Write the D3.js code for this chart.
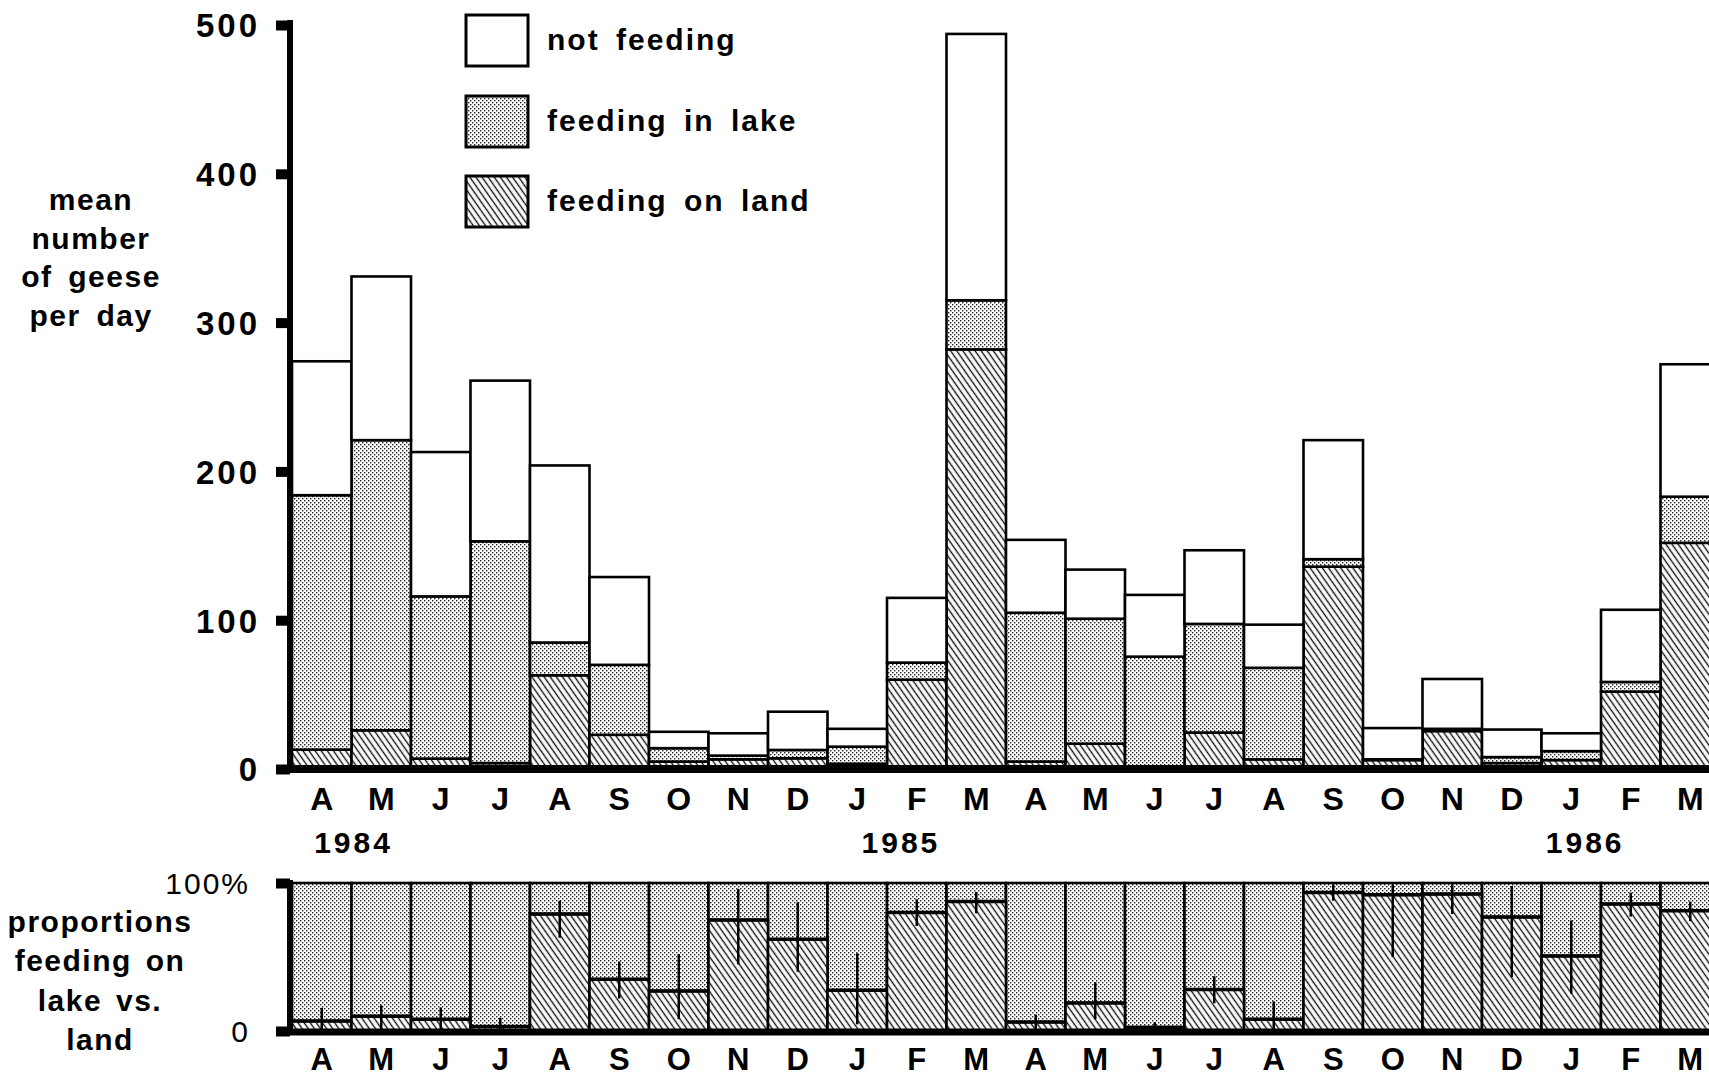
<!DOCTYPE html>
<html><head><meta charset="utf-8">
<script src="https://cdn.jsdelivr.net/npm/d3@7"></script>
<style>body{margin:0;background:#fff}svg{display:block}</style>
</head><body>
<script>
// ---- data ----
const months = ["A","M","J","J","A","S","O","N","D","J","F","M","A","M","J","J","A","S","O","N","D","J","F","M"];
const feedingLand = [13,26,7,4,63,23,5,6.5,7.2,3.5,60,282,5,17,1.5,24.5,6.5,136,6,25.5,4,6,52,152];
const feedingLake = [171,195,109,149,22,47,9,2.5,5.6,11.5,11.5,33,100,84,74,73,61.5,5,0.5,1.5,4,6,6.5,31];
const notFeeding  = [90,110,97,108,119,59,11,15,25.7,12,43.5,179,49,33,41.5,49.5,29,80,21,33.5,18.5,12,48.5,89];
// lower panel: % feeding on land, with error range
const landPct  = [6.7,10,8,3,79,35,27,75,62,27.5,80,87.5,6,19,2.5,28,8,93.5,92,92.5,77,50.7,85.8,81.3];
const pctLow   = [0,0,0,0,63,22,8,45,40,4.5,71,79.5,0,8,0,18.7,0,88,50,79,36.5,25.3,77.3,74.2];
const pctHigh  = [15.7,17.4,16,9,88,47,52,96,87,52.5,89,94,11,33,6,37,20,99,99,99,98,74.7,93.5,87.5];
const yearLabels = ["1984","1985","1986"];
const yearAnchor = [0.5, 9.7, 21.2]; // month index the year label is centred on
const upperTicks = [0,100,200,300,400,500];
const lowerTicks = [0,100];
const lowerTickLabels = ["0","100%"];
const legendLabels = ["not feeding","feeding in lake","feeding on land"];
const yTitle = ["mean","number","of geese","per day"];
const yTitle2 = ["proportions","feeding on","lake vs.","land"];

// ---- setup ----
const W=1709,H=1077;
const FONT="'Liberation Sans', Arial, sans-serif";
const svg=d3.select("body").append("svg").attr("width",W).attr("height",H)
  .style("font-family",FONT);
const defs=svg.append("defs");
const st=defs.append("pattern").attr("id","stipple").attr("patternUnits","userSpaceOnUse").attr("width",4).attr("height",4);
st.append("rect").attr("width",4).attr("height",4).attr("fill","#fff");
st.append("rect").attr("x",0).attr("y",0).attr("width",1.4).attr("height",1.4).attr("fill","#222");
st.append("rect").attr("x",2).attr("y",2).attr("width",1.4).attr("height",1.4).attr("fill","#222");
const ht=defs.append("pattern").attr("id","hatch").attr("patternUnits","userSpaceOnUse").attr("width",5).attr("height",10).attr("patternTransform","rotate(-35)");
ht.append("rect").attr("width",5).attr("height",10).attr("fill","#fff");
ht.append("line").attr("x1",2.5).attr("x2",2.5).attr("y1",-1).attr("y2",11).attr("stroke","#111").attr("stroke-width",1.4);

const x=d3.scaleBand().domain(d3.range(months.length)).range([292,292+59.5*months.length]).padding(0);
const y=d3.scaleLinear().domain([0,500]).range([769,25]);
const yp=d3.scaleLinear().domain([0,100]).range([1031,883]);

// ---- upper stacked bars ----
const rows=months.map((m,i)=>({land:feedingLand[i],lake:feedingLake[i],not:notFeeding[i]}));
const series=d3.stack().keys(["land","lake","not"])(rows);
const fills={land:"url(#hatch)",lake:"url(#stipple)",not:"#fff"};
svg.append("g").selectAll("g").data(series).join("g").attr("fill",d=>fills[d.key])
  .selectAll("rect").data(d=>d).join("rect")
  .attr("x",(d,i)=>x(i)).attr("width",x.bandwidth())
  .attr("y",d=>y(d[1])).attr("height",d=>Math.max(0,y(d[0])-y(d[1])))
  .attr("stroke","#000").attr("stroke-width",2.6);

// upper axis
const ax=svg.append("g").attr("transform","translate(290,0)")
  .call(d3.axisLeft(y).tickValues(upperTicks).tickSize(14).tickPadding(19).tickSizeOuter(0));
ax.select(".domain").remove();
ax.selectAll(".tick line").attr("stroke","#000").attr("stroke-width",10);
ax.selectAll(".tick text").attr("font-size",33).attr("font-weight","bold").attr("font-family",FONT).attr("fill","#000")
  .attr("letter-spacing",3).attr("dx",3).attr("dy","0.36em");
svg.append("line").attr("x1",290).attr("x2",290).attr("y1",20).attr("y2",773).attr("stroke","#000").attr("stroke-width",6);
svg.append("line").attr("x1",277).attr("x2",W).attr("y1",y(0)).attr("y2",y(0)).attr("stroke","#000").attr("stroke-width",8);

// month labels upper
const mx=svg.append("g").attr("transform",`translate(0,${y(0)})`)
  .call(d3.axisBottom(x).tickFormat(i=>months[i]).tickSize(0));
mx.select(".domain").remove();
mx.selectAll(".tick text").attr("y",41).attr("dy",0).attr("font-size",32).attr("font-weight","bold")
  .attr("font-family",FONT).attr("fill","#000");

// years
svg.append("g").selectAll("text").data(yearLabels).join("text")
  .attr("x",(d,i)=>x(0)+(yearAnchor[i]+0.5)*x.bandwidth()+2).attr("y",853)
  .attr("text-anchor","middle").attr("font-size",30).attr("font-weight","bold").attr("letter-spacing",3).text(d=>d);

// legend
const lg=svg.append("g").selectAll("g").data(legendLabels).join("g")
  .attr("transform",(d,i)=>`translate(466,${[15,96,176][i]})`);
lg.append("rect").attr("width",62).attr("height",51)
  .attr("fill",(d,i)=>[fills.not,fills.lake,fills.land][i]).attr("stroke","#000").attr("stroke-width",3);
lg.append("text").attr("x",81).attr("y",35).attr("font-size",30).attr("font-weight","bold")
  .attr("letter-spacing",2).attr("word-spacing",6).text(d=>d);

// y titles
svg.append("g").selectAll("text").data(yTitle).join("text")
  .attr("x",91).attr("y",(d,i)=>210+i*38.7).attr("text-anchor","middle")
  .attr("font-size",30).attr("font-weight","bold").attr("letter-spacing",1.5).attr("word-spacing",6).text(d=>d);
svg.append("g").selectAll("text").data(yTitle2).join("text")
  .attr("x",100).attr("y",(d,i)=>932+i*39.3).attr("text-anchor","middle")
  .attr("font-size",30).attr("font-weight","bold").attr("letter-spacing",1.5).attr("word-spacing",4).text(d=>d);

// ---- lower panel ----
const lp=svg.append("g");
lp.selectAll("rect.bg").data(months).join("rect").attr("class","bg")
  .attr("x",(d,i)=>x(i)).attr("width",x.bandwidth())
  .attr("y",yp(100)).attr("height",yp(0)-yp(100))
  .attr("fill","url(#stipple)").attr("stroke","#000").attr("stroke-width",2.6);
lp.selectAll("rect.land").data(landPct).join("rect").attr("class","land")
  .attr("x",(d,i)=>x(i)).attr("width",x.bandwidth())
  .attr("y",d=>yp(d)).attr("height",d=>yp(0)-yp(d))
  .attr("fill","url(#hatch)").attr("stroke","#000").attr("stroke-width",2.6);
lp.selectAll("line.mean").data(landPct).join("line").attr("class","mean")
  .attr("x1",(d,i)=>x(i)).attr("x2",(d,i)=>x(i)+x.bandwidth())
  .attr("y1",d=>yp(d)).attr("y2",d=>yp(d)).attr("stroke","#000").attr("stroke-width",3.5);
lp.selectAll("line.err").data(landPct).join("line").attr("class","err")
  .attr("x1",(d,i)=>x(i)+x.bandwidth()/2).attr("x2",(d,i)=>x(i)+x.bandwidth()/2)
  .attr("y1",(d,i)=>yp(pctLow[i])).attr("y2",(d,i)=>yp(pctHigh[i])).attr("stroke","#000").attr("stroke-width",2.5);

const ax2=svg.append("g").attr("transform","translate(290,0)")
  .call(d3.axisLeft(yp).tickValues(lowerTicks).tickFormat((d,i)=>lowerTickLabels[i]).tickSize(14).tickPadding(28).tickSizeOuter(0));
ax2.select(".domain").remove();
ax2.selectAll(".tick line").attr("stroke","#000").attr("stroke-width",10);
ax2.selectAll(".tick text").attr("font-size",30).attr("font-family",FONT).attr("fill","#000")
  .attr("letter-spacing",2).attr("dx",2).attr("dy","0.36em");
svg.append("line").attr("x1",290).attr("x2",290).attr("y1",880).attr("y2",1035).attr("stroke","#000").attr("stroke-width",6);
svg.append("line").attr("x1",277).attr("x2",W).attr("y1",yp(0)+1).attr("y2",yp(0)+1).attr("stroke","#000").attr("stroke-width",7);

const mx2=svg.append("g").attr("transform",`translate(0,${yp(0)})`)
  .call(d3.axisBottom(x).tickFormat(i=>months[i]).tickSize(0));
mx2.select(".domain").remove();
mx2.selectAll(".tick text").attr("y",39).attr("dy",0).attr("font-size",31).attr("font-weight","bold")
  .attr("font-family",FONT).attr("fill","#000");
</script>
</body></html>
